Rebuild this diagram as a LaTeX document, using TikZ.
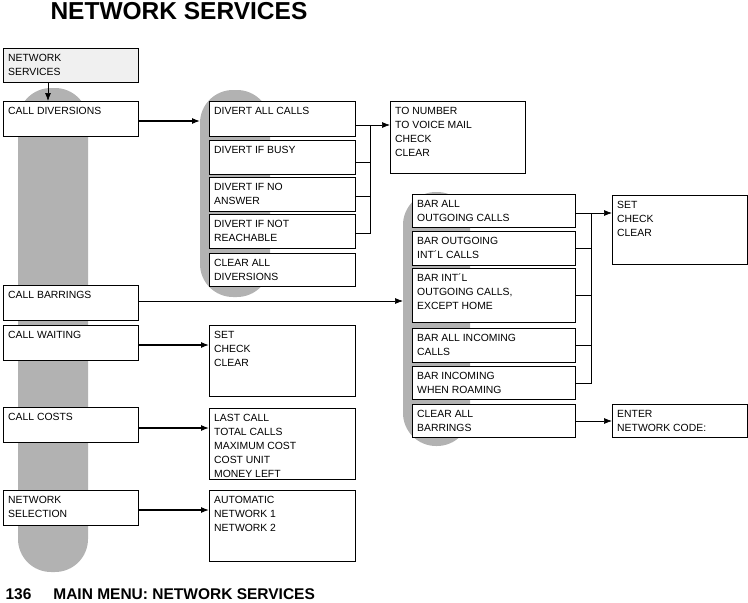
\documentclass[tikz,border=0pt]{standalone}
\usepackage{fontspec}
\setmainfont{Liberation Sans}
\usetikzlibrary{arrows.meta}
\tikzset{
 box/.style={draw,line width=0.6pt,fill=white,anchor=north west,inner sep=0pt},
 txt/.style={anchor=north west,inner sep=0pt,font=\fontsize{10.4}{14}\selectfont,align=left},
 pill/.style={fill=gray!60,draw=none},
 arr/.style={-{Latex[length=8pt,width=6pt]},line width=1.1pt},
 thin arr/.style={-{Latex[length=8pt,width=6pt]},line width=0.7pt},
 bus/.style={line width=0.6pt}
}
\newcommand{\bx}[6]{%
 \node[box,minimum width={(#4-#2)*1pt},minimum height={(#5-#3)*1pt}] (#1) at (#2,#3) {};
 \node[txt] (#1t) at ([xshift=5pt,yshift=-6pt]#1.north west) {#6};}
\begin{document}
\begin{tikzpicture}[x=1pt,y=-1pt]
\useasboundingbox (0,0) rectangle (748,603);
% pills
\fill[pill,rounded corners=33pt] (18,88) rectangle (88,572);
\fill[pill,rounded corners=33pt] (200,90) rectangle (270,297);
\fill[pill,rounded corners=33pt] (403,192) rectangle (470,446);
\node[anchor=west,font=\bfseries\fontsize{24.5}{28}\selectfont] (title) at (47,11) {NETWORK SERVICES};
\node[anchor=west,font=\bfseries\fontsize{15.5}{17}\selectfont] (foot) at (2,594) {136\hspace{22pt}MAIN MENU: NETWORK SERVICES};
% left column
\node[box,fill=gray!12,minimum width=135pt,minimum height=34pt] (ns) at (3,48) {};
\node[txt] at ([xshift=5pt,yshift=-6pt]ns.north west) {NETWORK\\SERVICES};
\bx{cd}{3}{101}{138}{136}{CALL DIVERSIONS}
\bx{cb}{3}{285}{138}{320}{CALL BARRINGS}
\bx{cw}{3}{325}{138}{360}{CALL WAITING}
\bx{cc}{3}{407}{138}{442}{CALL COSTS}
\bx{nsel}{3}{490}{138}{525}{NETWORK\\SELECTION}
\draw[thin arr] (ns.south -| 48,0) -- (cd.north -| 48,0);
% diversions
\bx{d1}{209}{101}{355}{136}{DIVERT ALL CALLS}
\bx{d2}{209}{140}{355}{174}{DIVERT IF BUSY}
\bx{d3}{209}{177}{355}{211}{DIVERT IF NO\\ANSWER}
\bx{d4}{209}{214}{355}{248}{DIVERT IF NOT\\REACHABLE}
\bx{d5}{209}{253}{355}{286}{CLEAR ALL\\DIVERSIONS}
\bx{tn}{390}{101}{525}{173}{TO NUMBER\\TO VOICE MAIL\\CHECK\\CLEAR}
\coordinate (dj) at (370,125);
\draw[arr] (138,121) -- (200,121);
\draw[bus] (355,125) -- (dj) (355,162) -- (370,162) (355,196) -- (370,196) (355,233) -- (370,233) -- (dj);
\draw[thin arr] (dj) -- (tn.west |- dj);
% waiting etc
\bx{w}{209}{325}{355}{396}{SET\\CHECK\\CLEAR}
\bx{lc}{209}{408}{355}{479}{LAST CALL\\TOTAL CALLS\\MAXIMUM COST\\COST UNIT\\MONEY LEFT}
\bx{au}{209}{490}{355}{561}{AUTOMATIC\\NETWORK 1\\NETWORK 2}
\draw[arr] (138,345) -- (209,345);
\draw[arr] (138,428) -- (209,428);
\draw[arr] (138,510) -- (209,510);
% barrings
\draw[thin arr] (138,301) -- (403,301);
\bx{b1}{412}{194}{575}{227}{BAR ALL\\OUTGOING CALLS}
\bx{b2}{412}{231}{575}{265}{BAR OUTGOING\\INT\textasciiacute L CALLS}
\bx{b3}{412}{268}{575}{322}{BAR INT\textasciiacute L\\OUTGOING CALLS,\\EXCEPT HOME}
\bx{b4}{412}{328}{575}{362}{BAR ALL INCOMING\\CALLS}
\bx{b5}{412}{366}{575}{399}{BAR INCOMING\\WHEN ROAMING}
\bx{b6}{412}{404}{575}{437}{CLEAR ALL\\BARRINGS}
\bx{sc}{612}{195}{747}{264}{SET\\CHECK\\CLEAR}
\bx{en}{612}{404}{747}{437}{ENTER\\NETWORK CODE:}
\coordinate (bj) at (591,213);
\draw[bus] (575,213) -- (bj) (575,248) -- (591,248) (575,295) -- (591,295) (575,345) -- (591,345) (575,383) -- (591,383) -- (bj);
\draw[thin arr] (bj) -- (sc.west |- bj);
\draw[thin arr] (575,421) -- (en.west |- 0,421);
\end{tikzpicture}
\end{document}
